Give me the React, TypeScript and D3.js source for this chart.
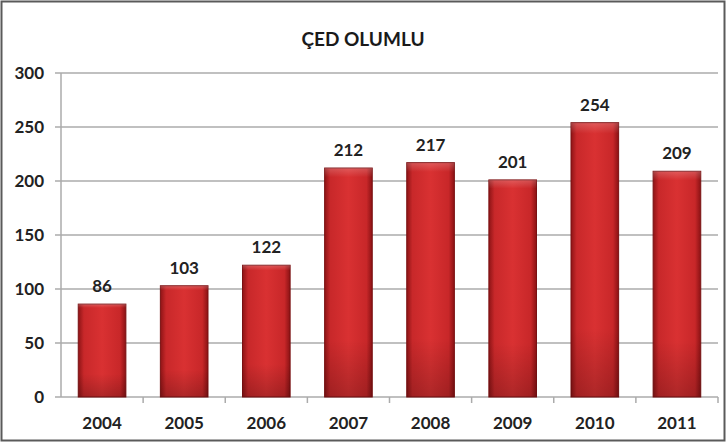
import React from 'react';
import * as d3 from 'd3';

const years = ['2004', '2005', '2006', '2007', '2008', '2009', '2010', '2011'];
const counts = [86, 103, 122, 212, 217, 201, 254, 209];
const yTicks = [0, 50, 100, 150, 200, 250, 300];
const title = 'ÇED OLUMLU';

const W = 726;
const H = 442;
const margin = { top: 73, right: 8, bottom: 45, left: 61 };

export default function App() {
  const x = d3
    .scaleBand()
    .domain(years)
    .range([margin.left, W - margin.right])
    .paddingInner(0.42)
    .paddingOuter(0.21);

  const y = d3
    .scaleLinear()
    .domain([0, 300])
    .range([H - margin.bottom, margin.top]);

  const font = 'Lato, "Open Sans", sans-serif';
  const step = x.step();
  const left = margin.left;
  const right = W - margin.right;

  return (
    <div style={{ position: 'absolute', left: 0, top: 0 }}>
      <svg width={W} height={H} style={{ display: 'block' }}>
        <defs>
          <linearGradient id="barH" x1="0" x2="1" y1="0" y2="0">
            <stop offset="0%" stopColor="#8e1416" />
            <stop offset="12%" stopColor="#c8282a" />
            <stop offset="50%" stopColor="#d93132" />
            <stop offset="88%" stopColor="#c82729" />
            <stop offset="100%" stopColor="#8a1214" />
          </linearGradient>
          <linearGradient id="barV" x1="0" x2="0" y1="0" y2="1">
            <stop offset="0%" stopColor="#ffffff" stopOpacity="0.2" />
            <stop offset="4%" stopColor="#ffffff" stopOpacity="0" />
            <stop offset="75%" stopColor="#000000" stopOpacity="0" />
            <stop offset="100%" stopColor="#000000" stopOpacity="0.2" />
          </linearGradient>
        </defs>

        <rect x={0} y={0} width={W} height={H} fill="#ffffff" />
        <rect x={1.5} y={1.5} width={W - 3} height={H - 3} fill="none" stroke="#5a5a5a" strokeWidth={2} />

        <text x={W / 2} y={46} textAnchor="middle" fontFamily={font} fontWeight="bold" fontSize={19} fill="#1a1a1a">
          {title}
        </text>

        {/* grid lines */}
        {yTicks.map((t) => (
          <g key={t}>
            {t > 0 && (
              <line x1={left} x2={right} y1={y(t)} y2={y(t)} stroke="#ababab" strokeWidth={1.5} />
            )}
            <line x1={left - 6} x2={left} y1={y(t)} y2={y(t)} stroke="#ababab" strokeWidth={1.5} />
            <text x={left - 17} y={y(t) + 6} textAnchor="end" fontFamily={font} fontWeight="bold" fontSize={17} fill="#222">
              {t}
            </text>
          </g>
        ))}

        {/* axes */}
        <line x1={left} x2={left} y1={y(300)} y2={y(0)} stroke="#ababab" strokeWidth={1.5} />
        <line x1={left} x2={right} y1={y(0)} y2={y(0)} stroke="#ababab" strokeWidth={1.5} />
        {years.map((yr, i) => (
          <line key={'t' + yr} x1={left + step * (i + 1)} x2={left + step * (i + 1)} y1={y(0)} y2={y(0) + 6} stroke="#ababab" strokeWidth={1.5} />
        ))}

        {/* bars */}
        {years.map((yr, i) => {
          const bx = x(yr) as number;
          const by = y(counts[i]);
          const bh = y(0) - by;
          return (
            <g key={yr}>
              <rect x={bx} y={by} width={x.bandwidth()} height={bh} fill="url(#barH)" stroke="#7a1012" strokeWidth={1} />
              <rect x={bx} y={by} width={x.bandwidth()} height={bh} fill="url(#barV)" />
              <text x={bx + x.bandwidth() / 2} y={by - 12} textAnchor="middle" fontFamily={font} fontWeight="bold" fontSize={17} fill="#222">
                {counts[i]}
              </text>
              <text x={bx + x.bandwidth() / 2} y={y(0) + 32} textAnchor="middle" fontFamily={font} fontWeight="bold" fontSize={17} fill="#222">
                {yr}
              </text>
            </g>
          );
        })}
      </svg>
    </div>
  );
}
